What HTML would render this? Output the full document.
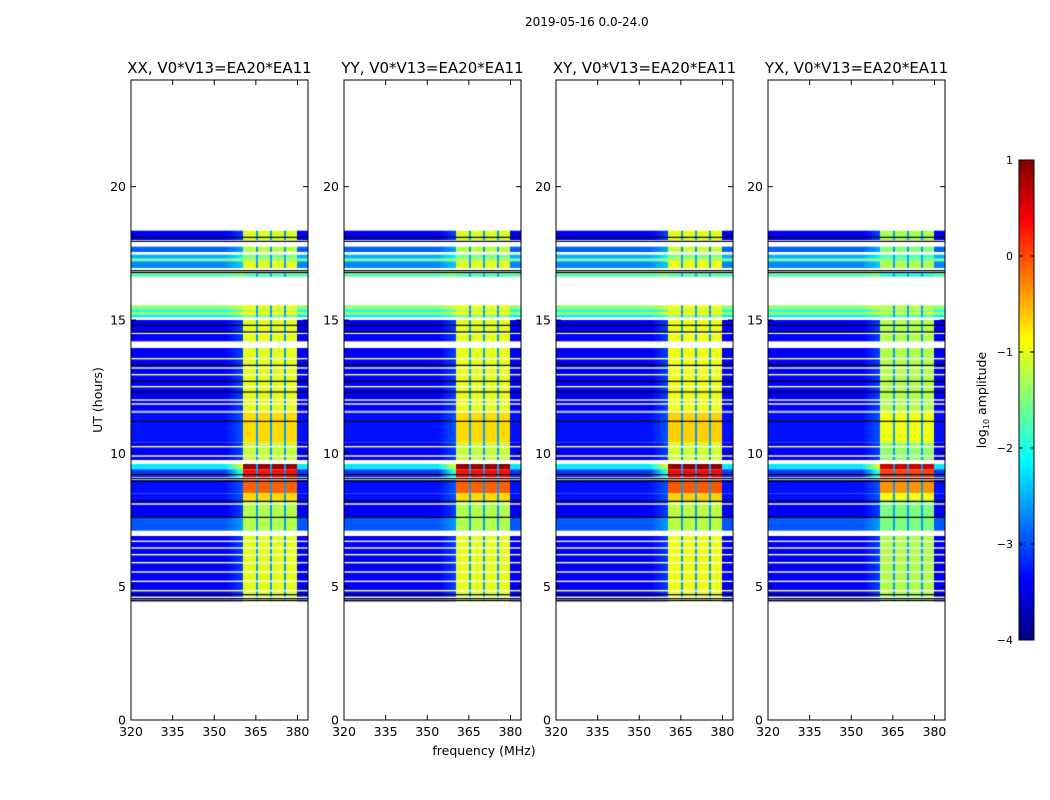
<!DOCTYPE html>
<html><head><meta charset="utf-8">
<style>
body{margin:0;background:#fff;}
#fig{position:relative;width:1050px;height:800px;overflow:hidden;font-family:"DejaVu Sans","Liberation Sans",sans-serif;color:#000;}
canvas{position:absolute;}
.t{position:absolute;white-space:nowrap;}
</style></head>
<body>
<div id="fig">
<div class="t" style="left:525px;top:15px;font-size:12px;">2019-05-16 0.0-24.0</div>
<svg id="ov" width="1050" height="800" style="position:absolute;left:0;top:0"></svg>
</div>
<script>
// ---- data ----
const panelTitles = ["XX, V0*V13=EA20*EA11","YY, V0*V13=EA20*EA11","XY, V0*V13=EA20*EA11","YX, V0*V13=EA20*EA11"];
const panelLeft = [131, 344, 556, 768];
const panelBandOffset = [0, 0.0, 0.05, -0.25];
const yTicks = [0, 5, 10, 15, 20];
const xTicks = [320, 335, 350, 365, 380];
const cbTicks = [-4, -3, -2, -1, 0, 1];
// time segments: [t0, t1, background log amp, band log amp]
const segStart = [18.0, 17.55, 17.3, 17.2, 16.95, 16.62, 15.4, 15.3, 15.2, 15.1, 14.2, 11.6, 10.4, 9.75, 9.4, 9.1, 8.5, 8.2, 7.6, 7.1, 4.45];
const segEnd   = [18.35, 17.75, 17.45, 17.3, 17.2, 16.75, 15.55, 15.4, 15.3, 15.2, 15.0, 13.95, 11.6, 10.4, 9.6, 9.4, 9.0, 8.5, 8.2, 7.6, 6.9];
const segBg    = [-3.4, -2.9, -2.5, -1.6, -2.7, -1.7, -1.4, -2.0, -1.3, -2.2, -3.4, -3.4, -3.3, -3.4, -2.2, -3.1, -3.3, -3.3, -3.4, -2.95, -3.4];
const segBand  = [-1.05, -1.2, -1.5, -1.3, -1.0, -1.7, -0.95, -1.2, -0.85, -1.5, -1.0, -1.0, -0.7, -1.15, 0.9, 0.3, -0.1, -0.7, -1.25, -1.25, -1.0];
const whiteLines = [17.5, 16.9, 14.5, 13.55, 13.2, 12.95, 12.5, 12.0, 11.85, 11.55, 10.25, 9.9, 8.1, 6.7, 6.45, 6.2, 5.9, 5.55, 5.2, 4.85, 4.6, 4.5];
const blackLines = [18.1, 17.95, 16.85, 16.78, 14.8, 14.55, 13.3, 12.7, 12.3, 11.2, 9.2, 9.05, 8.95, 8.2, 7.6, 4.7, 4.55, 4.48];
const bandLo = 360.4, bandHi = 379.8;
const bandGaps = [365.5, 370.5, 375.5];

// ---- geometry ----
const PW = 177, PT = 80, PH = 640, F0 = 320, F1 = 383.8, T1 = 24;
const fx = f => (f - F0) / (F1 - F0) * PW;
const ty = t => PT + PH - t / T1 * PH;
function jet(v){ // v in -4..1
  let x = Math.max(0, Math.min(1, (v + 4) / 5));
  const c = k => Math.max(0, Math.min(1, 1.5 - Math.abs(4 * x - k)));
  return [c(3)*255|0, c(2)*255|0, c(1)*255|0];
}
const fig = document.getElementById('fig');
const ov = document.getElementById('ov');
const NS = 'http://www.w3.org/2000/svg';
function sv(tag, attrs, parent){ const e = document.createElementNS(NS, tag); for (const k in attrs) e.setAttribute(k, attrs[k]); (parent||ov).appendChild(e); return e; }
function txt(s, x, y, size, anchor, rot){
  const e = sv('text', {x:x, y:y, 'font-size':size, 'text-anchor':anchor||'middle', 'font-family':'DejaVu Sans, Liberation Sans, sans-serif'});
  if (rot) e.setAttribute('transform', 'rotate(-90 '+x+' '+y+')');
  e.textContent = s; return e;
}

function level(seg, f, p){
  const bg = segBg[seg], band = segBand[seg] + panelBandOffset[p];
  if (f >= bandLo && f <= bandHi) {
    for (const g of bandGaps) if (Math.abs(f - g) < 0.35) return Math.min(band, -2.6);
    return band;
  }
  let b = bg;
  if (f > 354 && f < bandLo) b += (f - 354) / (bandLo - 354) * (band > 0 ? 1.3 : 0.35);
  return b;
}

panelLeft.forEach((L, p) => {
  const cv = document.createElement('canvas');
  cv.width = PW; cv.height = PH;
  cv.style.left = L + 'px'; cv.style.top = PT + 'px';
  
  
  fig.insertBefore(cv, ov);
  const ctx = cv.getContext('2d');
  ctx.fillStyle = '#fff'; ctx.fillRect(0,0,PW,PH);
  for (let s = 0; s < segStart.length; s++) {
    const y0 = ty(segEnd[s]) - PT, y1 = ty(segStart[s]) - PT;
    for (let x = 0; x < PW; x++) {
      const f = F0 + (x + 0.5) / PW * (F1 - F0);
      const c = jet(level(s, f, p));
      ctx.fillStyle = 'rgb(' + c.join(',') + ')';
      ctx.fillRect(x, y0, 1, y1 - y0);
    }
  }
  ctx.fillStyle = '#fff';
  whiteLines.forEach(t => ctx.fillRect(0, ty(t) - PT - 0.7, PW, 1.4));
  ctx.fillStyle = '#000';
  blackLines.forEach(t => ctx.fillRect(0, ty(t) - PT - 0.6, PW, 1.2));

  // axes
  const g = sv('g', {});
  
  
  sv('rect', {x:L, y:PT, width:PW, height:PH, fill:'none', stroke:'#000', 'stroke-width':1}, g);
  yTicks.forEach(t => {
    const y = ty(t);
    sv('line', {x1:L, x2:L+5, y1:y, y2:y, stroke:'#000'}, g);
    sv('line', {x1:L+PW-5, x2:L+PW, y1:y, y2:y, stroke:'#000'}, g);
    const e = txt(String(t), L-5, y+4.5, 12.5, 'end'); g.appendChild(e);
  });
  xTicks.forEach(f => {
    const x = L + fx(f);
    sv('line', {x1:x, x2:x, y1:PT+PH, y2:PT+PH-5, stroke:'#000'}, g);
    sv('line', {x1:x, x2:x, y1:PT, y2:PT+5, stroke:'#000'}, g);
    const e = txt(String(f), x, PT+PH+16, 12.5); g.appendChild(e);
  });
  const tt = txt(panelTitles[p], L + PW/2, 73, 15);
  
  
});

const xl = txt('frequency (MHz)', 484, 755, 12.5);


const yl = txt('UT (hours)', 102, 400, 12.5, 'middle', true);



// colorbar
const CBX = 1019, CBW = 15, CBT = 160, CBH = 480;
const cb = document.createElement('canvas');
cb.width = CBW; cb.height = CBH;
cb.style.left = CBX + 'px'; cb.style.top = CBT + 'px';


fig.insertBefore(cb, ov);
const cctx = cb.getContext('2d');
for (let y = 0; y < CBH; y++) {
  const c = jet(1 - (y + 0.5) / CBH * 5);
  cctx.fillStyle = 'rgb(' + c.join(',') + ')';
  cctx.fillRect(0, y, CBW, 1);
}
sv('rect', {x:CBX, y:CBT, width:CBW, height:CBH, fill:'none', stroke:'#000'});
cbTicks.forEach(v => {
  const y = CBT + (1 - v) / 5 * CBH;
  sv('line', {x1:CBX, x2:CBX+4, y1:y, y2:y, stroke:'#000'});
  sv('line', {x1:CBX+CBW-4, x2:CBX+CBW, y1:y, y2:y, stroke:'#000'});
  const e = txt(v < 0 ? '\u2212' + (-v) : String(v), CBX - 6, y + 4, 11, 'end');
  
  
});
const cl = sv('text', {x:986, y:400, 'font-size':12.5, 'text-anchor':'middle', transform:'rotate(-90 986 400)', 'font-family':'DejaVu Sans, Liberation Sans, sans-serif'});


cl.innerHTML = 'log<tspan font-size="8" dy="3">10</tspan><tspan dy="-3"> amplitude</tspan>';
</script>
</body></html>
